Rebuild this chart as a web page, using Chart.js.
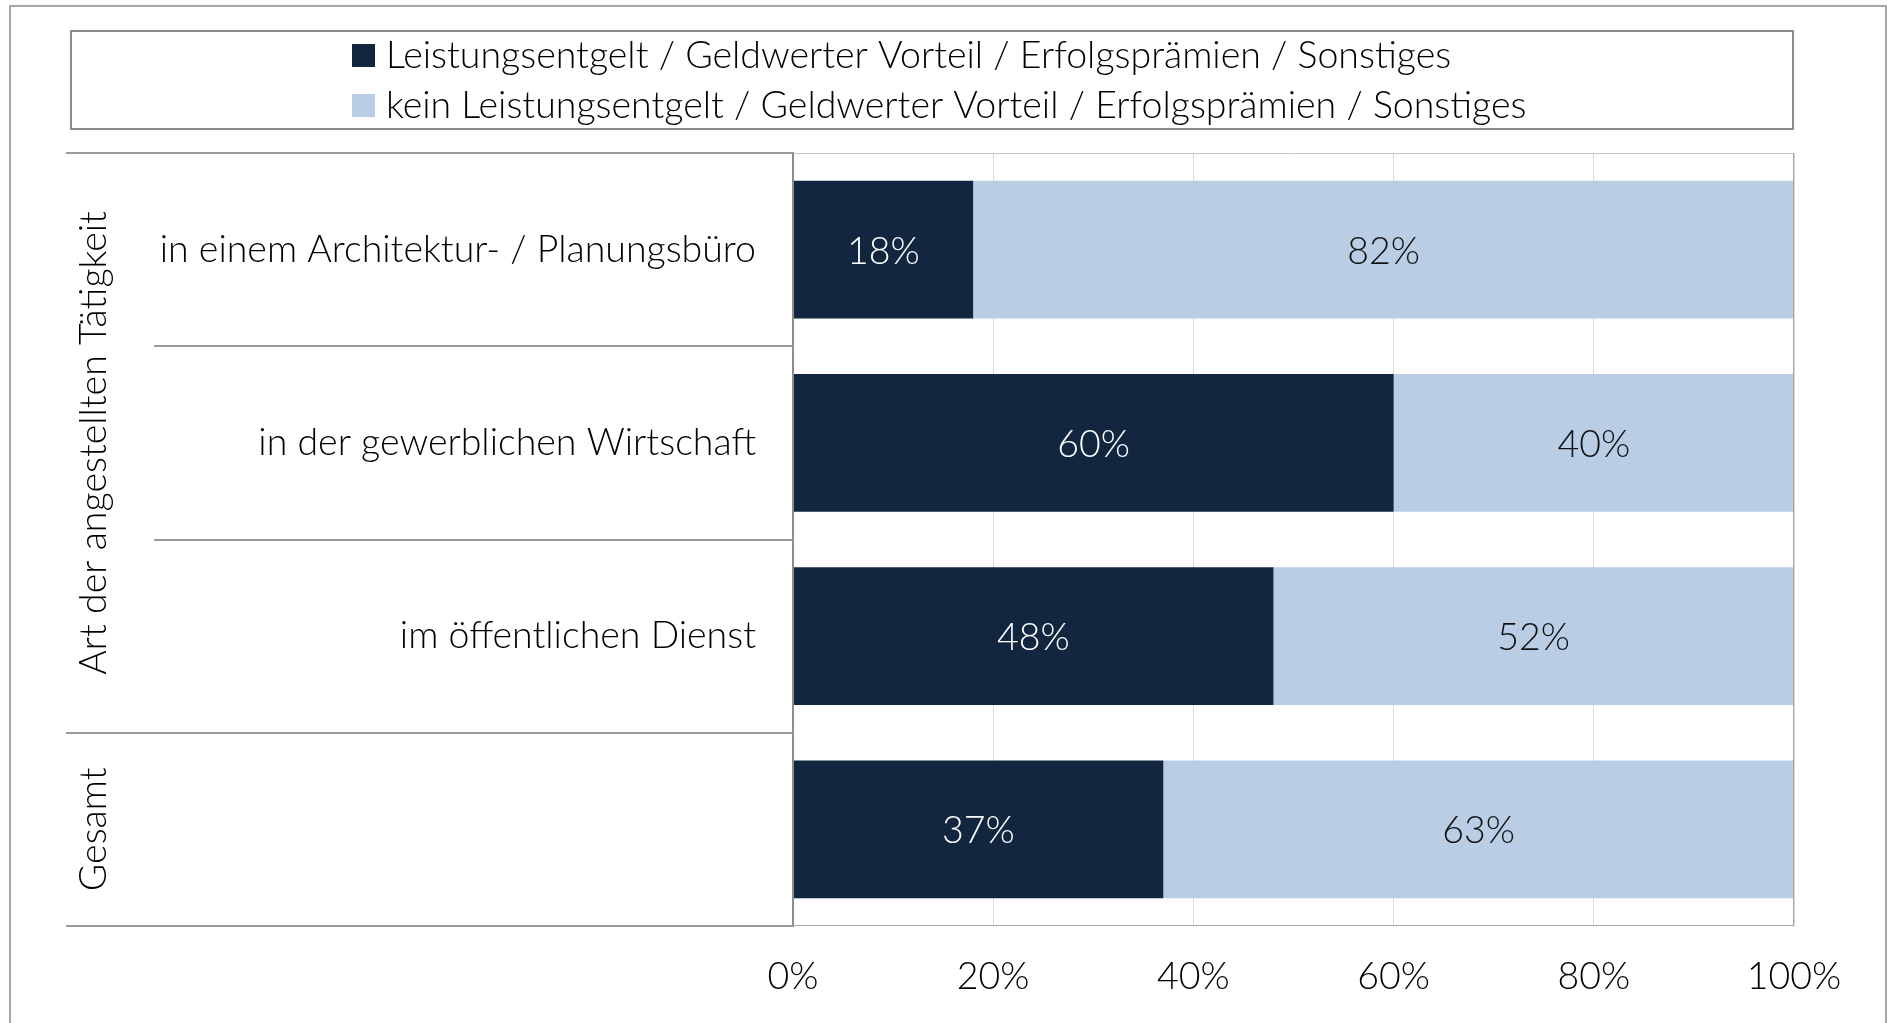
<!DOCTYPE html>
<html>
<head>
<meta charset="utf-8">
<script src="https://cdn.jsdelivr.net/npm/chart.js@4"></script>
<style>
  body { margin: 0; background: #fff; }
  canvas { display: block; }
</style>
</head>
<body>
<canvas id="chartBonus" width="1888" height="1023"></canvas>
<script>
// categories (inner level) and their outer groups
const categories = ['in einem Architektur- / Planungsbüro', 'in der gewerblichen Wirtschaft', 'im öffentlichen Dienst', ''];
const groupLabels = ['Art der angestellten Tätigkeit', 'Gesamt'];
const groupSpans = [3, 1];

const seriesNames = [
    'Leistungsentgelt / Geldwerter Vorteil / Erfolgsprämien / Sonstiges',
    'kein Leistungsentgelt / Geldwerter Vorteil / Erfolgsprämien / Sonstiges'
];
const withBonus = [18, 60, 48, 37];
const withoutBonus = [82, 40, 52, 63];
const xTicks = [0, 20, 40, 60, 80, 100];

const dark = '#12263F';
const light = '#B9CDE5';
const fontFamily = 'Lato, "Open Sans", sans-serif';
const fontSize = 37.5;
const fontCss = '300 ' + fontSize + 'px ' + fontFamily;

// white page, outer frame and the boxed legend
const framePlugin = {
    id: 'frame',
    beforeDraw(chart) {
        const ctx = chart.ctx;
        ctx.save();
        ctx.fillStyle = '#fff';
        ctx.fillRect(0, 0, chart.width, chart.height);

        ctx.strokeStyle = '#a6a6a6';
        ctx.lineWidth = 2;
        ctx.strokeRect(10, 6, 1876, 1040);

        ctx.strokeStyle = '#8c8c8c';
        ctx.lineWidth = 2;
        ctx.strokeRect(71, 31, 1722, 98);

        ctx.font = fontCss;
        ctx.textBaseline = 'middle';
        ctx.textAlign = 'left';
        chart.data.datasets.forEach((ds, i) => {
            const y = 44 + i * 50;
            ctx.fillStyle = ds.backgroundColor;
            ctx.fillRect(352, y, 23, 23);
            ctx.fillStyle = '#000';
            ctx.fillText(ds.label, 386, y + 12);
        });
        ctx.restore();
    }
};

// plot borders, multi-level category lines and the rotated group names
const axisPlugin = {
    id: 'axisFrame',
    afterDraw(chart) {
        const ctx = chart.ctx;
        const a = chart.chartArea;
        const n = categories.length;
        const band = (a.bottom - a.top) / n;
        ctx.save();

        ctx.lineWidth = 1;
        ctx.strokeStyle = '#c8c8c8';
        ctx.beginPath();
        ctx.moveTo(a.left, a.top + 0.5);
        ctx.lineTo(a.right, a.top + 0.5);
        ctx.stroke();
        ctx.strokeStyle = '#a6a6a6';
        ctx.beginPath();
        ctx.moveTo(a.right - 0.5, a.top);
        ctx.lineTo(a.right - 0.5, a.bottom);
        ctx.moveTo(a.left, a.bottom - 0.5);
        ctx.lineTo(a.right, a.bottom - 0.5);
        ctx.stroke();

        ctx.strokeStyle = '#8c8c8c';
        ctx.lineWidth = 2;
        ctx.beginPath();
        ctx.moveTo(a.left, a.top - 1);
        ctx.lineTo(a.left, a.bottom + 1);
        ctx.stroke();

        // group boundaries start further left than the inner ones
        const groupEdges = [0];
        groupSpans.forEach(s => groupEdges.push(groupEdges[groupEdges.length - 1] + s));
        ctx.strokeStyle = '#999';
        ctx.lineWidth = 2;
        for (let k = 0; k <= n; k++) {
            const y = Math.round(a.top + k * band);
            const x0 = groupEdges.includes(k) ? 66 : 154;
            ctx.beginPath();
            ctx.moveTo(x0, y);
            ctx.lineTo(a.left, y);
            ctx.stroke();
        }

        ctx.font = fontCss;
        ctx.fillStyle = '#000';
        ctx.textAlign = 'center';
        ctx.textBaseline = 'middle';
        groupLabels.forEach((g, i) => {
            const yc = a.top + (groupEdges[i] + groupEdges[i + 1]) / 2 * band;
            ctx.save();
            ctx.translate(94, yc);
            ctx.rotate(-Math.PI / 2);
            ctx.fillText(g, 0, 0);
            ctx.restore();
        });
        ctx.restore();
    }
};

// percentage printed in the middle of each segment
const valuePlugin = {
    id: 'values',
    afterDatasetsDraw(chart) {
        const ctx = chart.ctx;
        ctx.save();
        ctx.font = fontCss;
        ctx.textAlign = 'center';
        ctx.textBaseline = 'middle';
        chart.data.datasets.forEach((ds, i) => {
            chart.getDatasetMeta(i).data.forEach((bar, j) => {
                const p = bar.getCenterPoint();
                ctx.fillStyle = i === 0 ? '#fff' : '#111';
                ctx.fillText(ds.data[j] + '%', p.x, p.y + 2);
            });
        });
        ctx.restore();
    }
};

const data = {
    labels: categories,
    datasets: [
        { label: seriesNames[0], data: withBonus, backgroundColor: dark },
        { label: seriesNames[1], data: withoutBonus, backgroundColor: light }
    ]
};

const options = {
    indexAxis: 'y',
    responsive: false,
    animation: false,
    layout: { padding: { top: 153, right: 94, left: 0, bottom: 0 } },
    datasets: { bar: { categoryPercentage: 1, barPercentage: 0.714 } },
    plugins: { legend: { display: false }, tooltip: { enabled: false } },
    scales: {
        x: {
            stacked: true,
            min: 0,
            max: 100,
            afterFit(scale) { scale.height = 97; },
            afterBuildTicks(scale) { scale.ticks = xTicks.map(v => ({ value: v })); },
            ticks: {
                padding: 28,
                color: '#000',
                font: { family: fontFamily, size: fontSize, weight: 300 },
                callback: v => v + '%'
            },
            grid: { color: '#d9d9d9', drawTicks: false },
            border: { display: false }
        },
        y: {
            stacked: true,
            afterFit(scale) { scale.width = 793; },
            ticks: {
                padding: 37,
                color: '#000',
                font: { family: fontFamily, size: fontSize, weight: 300 }
            },
            grid: { display: false, drawTicks: false },
            border: { display: false }
        }
    }
};

const chart = new Chart(document.getElementById('chartBonus').getContext('2d'), {
    type: 'bar', data: data, options: options, plugins: [framePlugin, axisPlugin, valuePlugin]
});
</script>
</body>
</html>
